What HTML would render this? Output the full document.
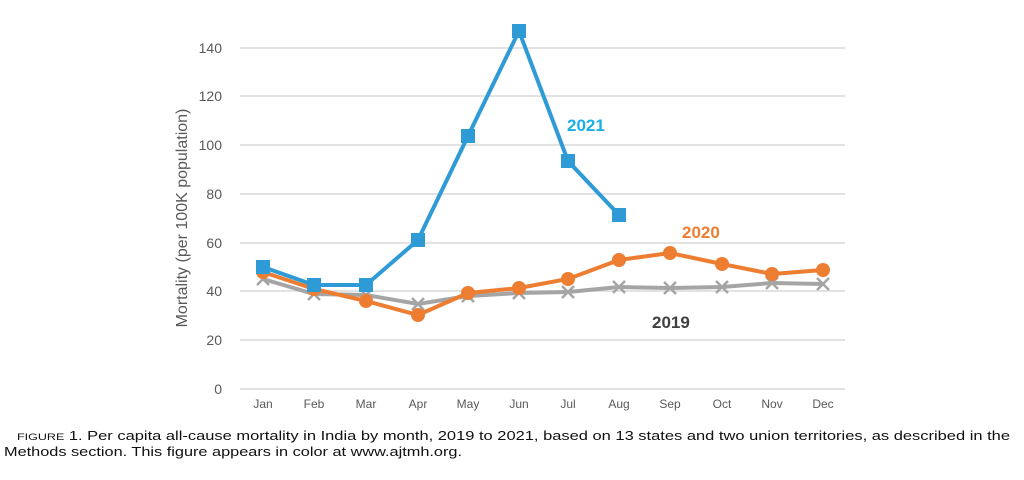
<!DOCTYPE html>
<html><head><meta charset="utf-8"><style>
body{margin:0;background:#fff;width:1024px;height:475px;overflow:hidden}
</style></head><body>
<svg width="1024" height="475" xmlns="http://www.w3.org/2000/svg" font-family="Liberation Sans, sans-serif">
<g stroke="#d9d9d9" stroke-width="1.5">
<line x1="240" x2="845" y1="389" y2="389"/>
<line x1="240" x2="845" y1="340" y2="340"/>
<line x1="240" x2="845" y1="291" y2="291"/>
<line x1="240" x2="845" y1="243" y2="243"/>
<line x1="240" x2="845" y1="194" y2="194"/>
<line x1="240" x2="845" y1="145" y2="145"/>
<line x1="240" x2="845" y1="96" y2="96"/>
<line x1="240" x2="845" y1="48" y2="48"/>
</g>
<g fill="#595959" font-size="14" text-anchor="end">
<text x="222" y="394">0</text><text x="222" y="345">20</text><text x="222" y="296">40</text>
<text x="222" y="248">60</text><text x="222" y="199">80</text><text x="222" y="150">100</text>
<text x="222" y="101">120</text><text x="222" y="53">140</text>
</g>
<text transform="translate(187,218) rotate(-90)" fill="#595959" font-size="16" text-anchor="middle">Mortality (per 100K population)</text>
<g fill="#595959" font-size="12" text-anchor="middle">
<text x="263" y="408">Jan</text><text x="314" y="408">Feb</text><text x="366" y="408">Mar</text><text x="418" y="408">Apr</text>
<text x="468" y="408">May</text><text x="519" y="408">Jun</text><text x="568" y="408">Jul</text><text x="619" y="408">Aug</text>
<text x="670" y="408">Sep</text><text x="722" y="408">Oct</text><text x="772" y="408">Nov</text><text x="823" y="408">Dec</text>
</g>
<polyline fill="none" stroke="#a5a5a5" stroke-width="4" points="263,279 314,294 366,295 418,304 468,296 519,293 568,292 619,287 670,288 722,287 772,283 823,284"/>
<g stroke="#a5a5a5" stroke-width="2.5">
<path d="M257,273l12,12M269,273l-12,12M308,288l12,12M320,288l-12,12M360,289l12,12M372,289l-12,12M412,298l12,12M424,298l-12,12M462,290l12,12M474,290l-12,12M513,287l12,12M525,287l-12,12M562,286l12,12M574,286l-12,12M613,281l12,12M625,281l-12,12M664,282l12,12M676,282l-12,12M716,281l12,12M728,281l-12,12M766,277l12,12M778,277l-12,12M817,278l12,12M829,278l-12,12"/>
</g>
<polyline fill="none" stroke="#ed7d31" stroke-width="4" points="263,272 314,289 366,301 418,315 468,293 519,288 568,279 619,260 670,253 722,264 772,274 823,270"/>
<g fill="#ed7d31">
<circle cx="263" cy="272" r="7"/><circle cx="314" cy="289" r="7"/><circle cx="366" cy="301" r="7"/><circle cx="418" cy="315" r="7"/>
<circle cx="468" cy="293" r="7"/><circle cx="519" cy="288" r="7"/><circle cx="568" cy="279" r="7"/><circle cx="619" cy="260" r="7"/>
<circle cx="670" cy="253" r="7"/><circle cx="722" cy="264" r="7"/><circle cx="772" cy="274" r="7"/><circle cx="823" cy="270" r="7"/>
</g>
<polyline fill="none" stroke="#2e9bd6" stroke-width="4" points="263,267 314,285 366,285 418,240 468,136 519,31 568,161 619,215"/>
<g fill="#2e9bd6">
<rect x="256" y="260" width="14" height="14"/><rect x="307" y="278" width="14" height="14"/><rect x="359" y="278" width="14" height="14"/>
<rect x="411" y="233" width="14" height="14"/><rect x="461" y="129" width="14" height="14"/><rect x="512" y="24" width="14" height="14"/>
<rect x="561" y="154" width="14" height="14"/><rect x="612" y="208" width="14" height="14"/>
</g>
<text x="567" y="131" fill="#1aaee8" font-size="17" font-weight="bold">2021</text>
<text x="682" y="238" fill="#ed7d31" font-size="17" font-weight="bold">2020</text>
<text x="652" y="328" fill="#404040" font-size="17" font-weight="bold">2019</text>
<g font-size="12.5" fill="#111">
<text x="17" y="440" textLength="993" lengthAdjust="spacingAndGlyphs"><tspan font-size="9.5">FIGURE</tspan> 1.    Per capita all-cause mortality in India by month, 2019 to 2021, based on 13 states and two union territories, as described in the</text>
<text x="4" y="456" textLength="458" lengthAdjust="spacingAndGlyphs">Methods section. This figure appears in color at www.ajtmh.org.</text>
</g>
</svg>
</body></html>
